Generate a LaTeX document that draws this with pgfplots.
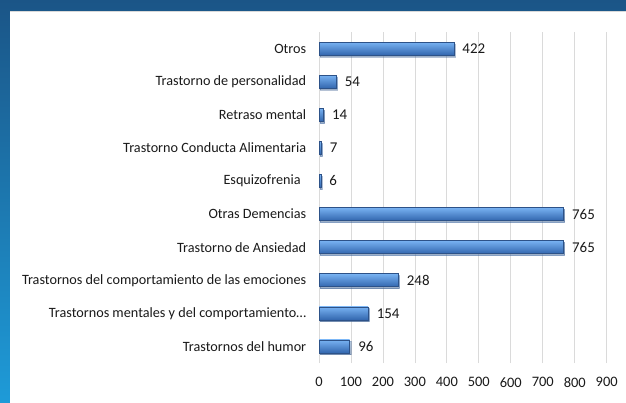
\documentclass[border=0pt]{standalone}
\usepackage{pgfplots}
\pgfplotsset{compat=1.18}
\usepackage{fontspec}
\setmainfont{Carlito}
\usetikzlibrary{shadows}
\definecolor{bgtop}{HTML}{1B5587}
\definecolor{bgbot}{HTML}{1E9BD8}
\definecolor{barlight}{HTML}{78B2F2}
\definecolor{barmid}{HTML}{4E8DDC}
\definecolor{bardark}{HTML}{3266AE}
\definecolor{baredge}{HTML}{2D5288}
\definecolor{gridc}{HTML}{DADADA}
\definecolor{txt}{HTML}{1A1A1A}
\pgfplotsset{mybar/.style={draw=baredge, line width=0.5bp, shading=axis,
    top color=barlight, middle color=barmid, bottom color=bardark,
    drop shadow={shadow xshift=1.2bp, shadow yshift=-1.8bp, opacity=0.35}}}
\begin{document}
\begin{tikzpicture}
\useasboundingbox (0,0) rectangle (626bp,403bp);
\shade[top color=bgtop, bottom color=bgbot] (0,0) rectangle (626bp,403bp);
\fill[gray!30] (10bp,0) rectangle (626bp,392bp);
\fill[white] (10bp,0) rectangle (626bp,391bp);
\begin{axis}[
  at={(319bp,40bp)}, anchor=south west,
  scale only axis, width=287.7bp, height=331bp,
  xbar, bar width=13bp, bar shift=0pt,
  xmin=0, xmax=900, ymin=-0.5, ymax=9.5,
  xtick={0,100,...,900},
  ytick={0,...,9},
  yticklabels={Trastornos del humor,
    Trastornos mentales y del comportamiento…,
    Trastornos del comportamiento de las emociones,
    Trastorno de Ansiedad,
    {Otras Demencias\ },
    {Esquizofrenia\ \,},
    Trastorno Conducta Alimentaria,
    Retraso mental,
    Trastorno de personalidad,
    Otros},
  tick style={draw=none},
  axis line style={draw=none},
  xmajorgrids, major grid style={gridc, line width=0.8bp},
  /pgf/number format/assume math mode=true,
  ticklabel style={text=txt},
  yticklabel style={font=\fontsize{14.25}{16}\selectfont, xshift=-5bp},
  xticklabel style={font=\fontsize{14.5}{16}\selectfont, yshift=-11bp},
  nodes near coords,
  nodes near coords style={font=\fontsize{15}{17}\selectfont, text=txt, xshift=5bp},
]
\addplot[mybar] coordinates {(96,0)};
\addplot[mybar] coordinates {(154,1)};
\addplot[mybar] coordinates {(248,2)};
\addplot[mybar] coordinates {(765,3)};
\addplot[mybar] coordinates {(765,4)};
\addplot[mybar] coordinates {(6,5)};
\addplot[mybar] coordinates {(7,6)};
\addplot[mybar] coordinates {(14,7)};
\addplot[mybar] coordinates {(54,8)};
\addplot[mybar] coordinates {(422,9)};
\end{axis}
\end{tikzpicture}
\end{document}
